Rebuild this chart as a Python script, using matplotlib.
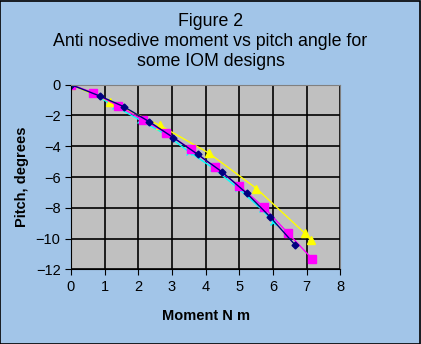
import matplotlib.pyplot as plt
from matplotlib.patches import Rectangle

plt.rcParams['font.family'] = ['Liberation Sans', 'DejaVu Sans']

# design 1 (navy diamonds)
moment_a = [0, 0.86, 1.57, 2.32, 3.04, 3.76, 4.5, 5.22, 5.91, 6.65]
pitch_a = [0, -0.74, -1.43, -2.4, -3.44, -4.52, -5.69, -7.06, -8.58, -10.4]
# design 2 (magenta squares)
moment_b = [0, 0.66, 1.41, 2.13, 2.82, 3.57, 4.27, 5.0, 5.73, 6.45, 7.17]
pitch_b = [0, -0.52, -1.39, -2.29, -3.12, -4.2, -5.37, -6.58, -7.97, -9.66, -11.33]
# design 3 (yellow triangles)
moment_c = [0, 1.16, 2.64, 4.09, 5.51, 6.95, 7.12]
pitch_c = [0, -1.1, -2.64, -4.44, -6.75, -9.66, -10.09]
# design 4 (cyan stars)
moment_d = [0, 0.65, 1.31, 2.05, 2.79, 3.5, 4.23, 4.95, 5.66, 6.01]
pitch_d = [0, -0.6, -1.4, -2.3, -3.2, -4.35, -5.43, -6.7, -8.1, -8.9]

xticks = [0, 1, 2, 3, 4, 5, 6, 7, 8]
yticks = [0, -2, -4, -6, -8, -10, -12]

fig = plt.figure(figsize=(4.21, 3.44), dpi=100)
fig.patch.set_facecolor('#A2C5E8')
fig.patches.append(Rectangle((0.001, 0.001), 0.997, 0.996, transform=fig.transFigure,
                             fill=False, edgecolor='black', linewidth=1.2))

ax = fig.add_axes([0.1686, 0.2171, 0.6397, 0.5367])
ax.set_facecolor('#C0C0C0')

ax.plot(moment_d, pitch_d, color='#00FFFF', marker='x', markersize=5, linewidth=1, mew=1)
ax.plot(moment_c, pitch_c, color='#FFFF00', marker='^', markersize=6, linewidth=1)
ax.plot(moment_b, pitch_b, color='#FF00FF', marker='s', markersize=6, linewidth=1)
ax.plot(moment_a, pitch_a, color='#000080', marker='D', markersize=3.5, linewidth=1)

ax.set_xlim(0, 8)
ax.set_ylim(-12, 0)
ax.set_xticks(xticks)
ax.set_yticks(yticks)
ax.grid(True, color='black', linewidth=1.2)
ax.set_axisbelow(True)
ax.tick_params(direction='out', length=4, labelsize=10.5, colors='black')
for side in ['top', 'right']:
    ax.spines[side].set_color('#808080')
for side in ['left', 'bottom']:
    ax.spines[side].set_color('black')

ax.set_xlabel('Moment N m', fontsize=10.5, fontweight='bold', labelpad=11)
ax.set_ylabel('Pitch, degrees', fontsize=10.5, fontweight='bold', labelpad=5)

fig.text(0.5, 1 - 21 / 344, 'Figure 2', ha='center', va='center', fontsize=12.8)
fig.text(0.5, 1 - 42 / 344, 'Anti nosedive moment vs pitch angle for', ha='center', va='center', fontsize=12.8)
fig.text(0.5, 1 - 62 / 344, 'some IOM designs', ha='center', va='center', fontsize=12.8)

fig.savefig('out.png', dpi=100, facecolor=fig.get_facecolor())
